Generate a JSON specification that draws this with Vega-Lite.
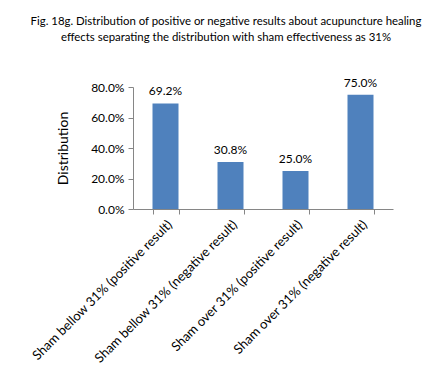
{
  "$schema": "https://vega.github.io/schema/vega-lite/v6.json",
  "autosize": "none",
  "width": 260,
  "height": 122,
  "padding": {"left": 133, "top": 87, "right": 33, "bottom": 163},
  "background": "white",
  "title": {
    "text": ["Fig. 18g. Distribution of positive or negative results about acupuncture healing", "effects separating the distribution with sham effectiveness as 31%"],
    "font": "Lato",
    "fontSize": 11.4,
    "fontWeight": "normal",
    "color": "#000000",
    "anchor": "middle",
    "dx": -37,
    "offset": 33,
    "lineHeight": 16
  },
  "data": {
    "values": [
      {"category": "Sham bellow 31% (positive result)", "value": 0.692},
      {"category": "Sham bellow 31% (negative result)", "value": 0.308},
      {"category": "Sham over 31% (positive result)", "value": 0.25},
      {"category": "Sham over 31% (negative result)", "value": 0.75}
    ]
  },
  "config": {
    "view": {"stroke": null},
    "font": "Lato"
  },
  "encoding": {
    "x": {
      "field": "category",
      "type": "nominal",
      "sort": null,
      "scale": {"paddingInner": 0.6, "paddingOuter": 0.3},
      "axis": {
        "title": null,
        "labelAngle": -45,
        "labelAlign": "right",
        "labelBaseline": "top",
        "labelFont": "Lato",
        "labelFontSize": 13,
        "labelColor": "#000000",
        "labelPadding": 4,
        "labelLimit": 300,
        "tickBand": "extent",
        "domainColor": "#868686",
        "tickColor": "#868686",
        "tickSize": 5
      }
    },
    "y": {
      "field": "value",
      "type": "quantitative",
      "scale": {"domain": [0, 0.8]},
      "axis": {
        "title": "Distribution",
        "titleFont": "Lato",
        "titleFontSize": 14,
        "titleFontWeight": "normal",
        "titleColor": "#000000",
        "titlePadding": 20,
        "format": ".1%",
        "values": [0, 0.2, 0.4, 0.6, 0.8],
        "grid": false,
        "labelFont": "Lato",
        "labelFontSize": 12,
        "labelColor": "#000000",
        "labelPadding": 4,
        "domainColor": "#868686",
        "tickColor": "#868686",
        "tickSize": 5
      }
    }
  },
  "layer": [
    {"mark": {"type": "bar", "color": "#4F81BD"}},
    {
      "mark": {"type": "text", "dy": -12, "font": "Lato", "fontSize": 12, "color": "#000000"},
      "encoding": {"text": {"field": "value", "type": "quantitative", "format": ".1%"}}
    }
  ]
}
